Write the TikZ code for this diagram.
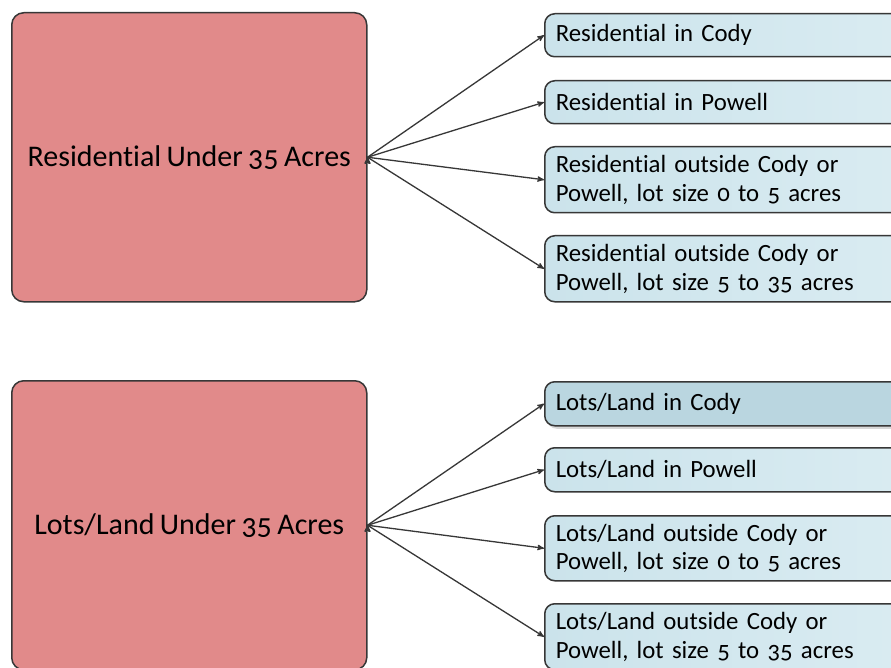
\documentclass[tikz,border=0pt]{standalone}
\usepackage{fontspec}
\setmainfont[Numbers=OldStyle,RawFeature=-liga,WordSpace=0.8]{Carlito}
\usetikzlibrary{arrows,shapes,shadows}
\definecolor{boxred}{RGB}{225,138,138}
\definecolor{boxblue}{RGB}{203,227,235}
\definecolor{boxbluelight}{RGB}{218,236,242}
\definecolor{boxbluedark}{RGB}{186,214,224}
\definecolor{edgegray}{RGB}{55,55,55}
\tikzstyle{cat} = [rectangle, draw=edgegray, fill=boxred, line width=1.5pt,
    rounded corners=12pt, minimum width=355pt, minimum height=289pt,
    inner sep=0pt, anchor=north west, font=\fontsize{30}{34}\selectfont]
\tikzstyle{sub} = [rectangle, draw=edgegray, left color=boxblue, right color=boxbluelight,
    line width=1.5pt, rounded corners=10pt, text width=352pt, align=left,
    inner xsep=11pt, inner ysep=0pt, anchor=north west,
    font=\fontsize{24.8}{28.5}\selectfont]
\tikzstyle{link} = [->, >=stealth', draw=edgegray, line width=1.3pt]

\begin{document}
\begin{tikzpicture}[x=1pt,y=-1pt]
  \clip (0,0) rectangle (891,668);
  \fill[white] (0,0) rectangle (891,668);
  % residential group
  \node[cat] (res) at (11,12) {Residential Under 35 Acres};
  \node[sub,minimum height=43pt] (r1) at (544,13) {Residential in Cody};
  \node[sub,minimum height=43pt] (r2) at (544,80) {Residential in Powell};
  \node[sub,minimum height=66pt] (r3) at (544,146) {Residential outside Cody or\\Powell, lot size 0 to 5 acres};
  \node[sub,minimum height=66pt] (r4) at (544,235) {Residential outside Cody or\\Powell, lot size 5 to 35 acres};
  % lots/land group
  \node[cat] (lot) at (11,380) {Lots/Land Under 35 Acres};
  \node[sub,minimum height=44pt,left color=boxbluedark,right color=boxbluedark,drop shadow={shadow xshift=2pt,shadow yshift=-3pt,fill=gray!60}] (l1) at (544,381) {Lots/Land in Cody};
  \node[sub,minimum height=44pt] (l2) at (544,447) {Lots/Land in Powell};
  \node[sub,minimum height=65pt] (l3) at (544,515) {Lots/Land outside Cody or\\Powell, lot size 0 to 5 acres};
  \node[sub,minimum height=66pt] (l4) at (544,603) {Lots/Land outside Cody or\\Powell, lot size 5 to 35 acres};

  \path[link] (res.east) edge (r1.west);
  \path[link] (res.east) edge (r2.west);
  \path[link] (res.east) edge (r3.west);
  \path[link] (res.east) edge (r4.west);
  \path[link] (lot.east) edge (l1.west);
  \path[link] (lot.east) edge (l2.west);
  \path[link] (lot.east) edge (l3.west);
  \path[link] (lot.east) edge (l4.west);
\end{tikzpicture}
\end{document}
